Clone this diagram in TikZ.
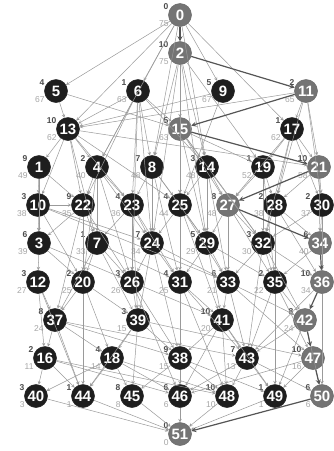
\documentclass[tikz,border=0pt]{standalone}
\usepackage{fontspec}
\setsansfont{Liberation Sans}
\usepackage[dvipsnames]{xcolor}
\definecolor{nodedark}{HTML}{1E1E1E}
\definecolor{nodecrit}{HTML}{747474}
\definecolor{edgegray}{HTML}{9A9A9A}
\definecolor{critedge}{HTML}{555555}

\begin{document}
\begin{tikzpicture}[->,>=stealth,x=1pt,y=-1pt,line width=0.5pt,
  main node/.style={circle,fill=nodedark,draw=nodedark,text=white,minimum size=23pt,inner sep=0pt,font=\sffamily\bfseries\fontsize{15}{15}\selectfont},
  crit node/.style={main node,fill=nodecrit,draw=black!60},
  tag/.style 2 args={label={[dur]158:#1},label={[lst]204:#2}},
  dur/.style={font=\sffamily\bfseries\fontsize{8.5}{8.5}\selectfont,text=black!70,inner sep=0.5pt},
  lst/.style={font=\sffamily\fontsize{8.5}{8.5}\selectfont,text=black!35,inner sep=0.5pt}]
    \useasboundingbox[fill=white] (0,0) rectangle (334,451);

    \node[crit node,tag={0}{75}] (0) at (180,15) {0};
    \node[crit node,tag={10}{75}] (2) at (180,53) {2};
    \node[main node,tag={4}{67}] (5) at (56,91) {5};
    \node[main node,tag={1}{63}] (6) at (138,91) {6};
    \node[main node,tag={5}{67}] (9) at (223,91) {9};
    \node[crit node,tag={2}{65}] (11) at (306,91) {11};
    \node[main node,tag={10}{62}] (13) at (68,129) {13};
    \node[crit node,tag={5}{63}] (15) at (180,129) {15};
    \node[main node,tag={1}{62}] (17) at (292,129) {17};
    \node[main node,tag={9}{49}] (1) at (39,167) {1};
    \node[main node,tag={2}{40}] (4) at (97,167) {4};
    \node[main node,tag={7}{48}] (8) at (152,167) {8};
    \node[main node,tag={3}{48}] (14) at (207,167) {14};
    \node[main node,tag={1}{52}] (19) at (263,167) {19};
    \node[crit node,tag={10}{58}] (21) at (319,167) {21};
    \node[main node,tag={3}{38}] (10) at (38,205) {10};
    \node[main node,tag={9}{35}] (22) at (83,205) {22};
    \node[main node,tag={4}{36}] (23) at (132,205) {23};
    \node[main node,tag={4}{44}] (25) at (180,205) {25};
    \node[crit node,tag={8}{48}] (27) at (228,205) {27};
    \node[main node,tag={2}{38}] (28) at (275,205) {28};
    \node[main node,tag={2}{37}] (30) at (322,205) {30};
    \node[main node,tag={6}{39}] (3) at (39,243) {3};
    \node[main node,tag={1}{33}] (7) at (97,243) {7};
    \node[main node,tag={7}{34}] (24) at (152,243) {24};
    \node[main node,tag={5}{29}] (29) at (207,243) {29};
    \node[main node,tag={3}{30}] (32) at (263,243) {32};
    \node[crit node,tag={6}{40}] (34) at (320,243) {34};
    \node[main node,tag={3}{27}] (12) at (38,282) {12};
    \node[main node,tag={2}{25}] (20) at (83,282) {20};
    \node[main node,tag={3}{26}] (26) at (132,282) {26};
    \node[main node,tag={4}{25}] (31) at (180,282) {31};
    \node[main node,tag={6}{21}] (33) at (228,282) {33};
    \node[main node,tag={2}{22}] (35) at (275,282) {35};
    \node[crit node,tag={10}{34}] (36) at (322,282) {36};
    \node[main node,tag={8}{24}] (37) at (55,320) {37};
    \node[main node,tag={3}{15}] (39) at (138,320) {39};
    \node[main node,tag={10}{20}] (41) at (222,320) {41};
    \node[crit node,tag={8}{24}] (42) at (305,320) {42};
    \node[main node,tag={2}{11}] (16) at (45,358) {16};
    \node[main node,tag={4}{14}] (18) at (112,358) {18};
    \node[main node,tag={9}{15}] (38) at (180,358) {38};
    \node[main node,tag={7}{13}] (43) at (247,358) {43};
    \node[crit node,tag={10}{16}] (47) at (313,358) {47};
    \node[main node,tag={3}{3}] (40) at (36,396) {40};
    \node[main node,tag={1}{1}] (44) at (83,396) {44};
    \node[main node,tag={8}{8}] (45) at (132,396) {45};
    \node[main node,tag={6}{6}] (46) at (180,396) {46};
    \node[main node,tag={10}{10}] (48) at (227,396) {48};
    \node[main node,tag={1}{1}] (49) at (275,396) {49};
    \node[crit node,tag={6}{6}] (50) at (322,396) {50};
    \node[crit node,tag={0}{0}] (51) at (180,434) {51};

    \path[color=edgegray]
        (0) edge (5) edge (6) edge (9) edge (17) edge (13) edge (4) edge (8) edge (14)
        (2) edge (15) edge (14) edge (25) edge (24) edge (29) edge (8) edge (19)
        (5) edge (13) edge (15)
        (6) edge (13) edge (15) edge (4) edge (8) edge (22) edge (23) edge (24) edge (26) edge (14)
        (9) edge (13) edge (25)
        (11) edge (13) edge (17) edge (21) edge (30) edge (28)
        (13) edge (1) edge (4) edge (22) edge (10) edge (21) edge (25) edge (23) edge (7)
        (15) edge (14) edge (25) edge (29) edge (27) edge (19) edge (32)
        (17) edge (19) edge (21) edge (28) edge (30) edge (27) edge (32)
        (1) edge (10) edge (22) edge (3)
        (4) edge (22) edge (23) edge (24) edge (7) edge (20) edge (26)
        (8) edge (23) edge (25) edge (24) edge (29) edge (31)
        (14) edge (25) edge (27) edge (29) edge (32) edge (33)
        (19) edge (27) edge (28) edge (32) edge (35)
        (21) edge (30) edge (28) edge (34)
        (10) edge (3) edge (22) edge (24) edge (20) edge (33)
        (22) edge (3) edge (20) edge (7) edge (26) edge (37)
        (23) edge (24) edge (7) edge (26) edge (31) edge (39)
        (25) edge (29) edge (31) edge (24) edge (33) edge (41)
        (27) edge (32) edge (29) edge (35) edge (33)
        (28) edge (32) edge (35) edge (34) edge (36)
        (30) edge (34) edge (32) edge (36)
        (3) edge (12) edge (20) edge (26)
        (7) edge (20) edge (26) edge (31) edge (37) edge (39)
        (24) edge (26) edge (31) edge (33) edge (39) edge (38)
        (29) edge (31) edge (33) edge (35) edge (41)
        (32) edge (35) edge (33) edge (36) edge (42) edge (43)
        (34) edge (35)
        (12) edge (37) edge (16) edge (44)
        (20) edge (37) edge (39) edge (18) edge (44)
        (26) edge (39) edge (41) edge (38) edge (46)
        (31) edge (38) edge (41) edge (43) edge (48)
        (33) edge (41) edge (42) edge (43) edge (47)
        (35) edge (42) edge (43) edge (47) edge (49)
        (36) edge (50) edge (43)
        (37) edge (16) edge (18) edge (44) edge (43) edge (38)
        (39) edge (18) edge (38) edge (45) edge (44) edge (47)
        (41) edge (38) edge (43) edge (46) edge (48) edge (49)
        (42) edge (43) edge (49) edge (50)
        (16) edge (40) edge (44) edge (46) edge (48)
        (18) edge (44) edge (40) edge (45) edge (46) edge (48)
        (38) edge (46) edge (45) edge (48) edge (49)
        (43) edge (46) edge (48) edge (49) edge (50)
        (47) edge (49) edge (46)
        (40) edge (51) (44) edge (51) (45) edge (51) (46) edge (51)
        (48) edge (51) (49) edge (51)
    ;

    \path[color=critedge,line width=1.2pt]
        (0) edge (2)
        (2) edge (11)
        (11) edge (15)
        (15) edge (21)
        (21) edge (27)
        (27) edge (34)
        (34) edge (36)
        (36) edge (42)
        (42) edge (47)
        (47) edge (50)
        (50) edge (51)
    ;

\end{tikzpicture}
\end{document}
